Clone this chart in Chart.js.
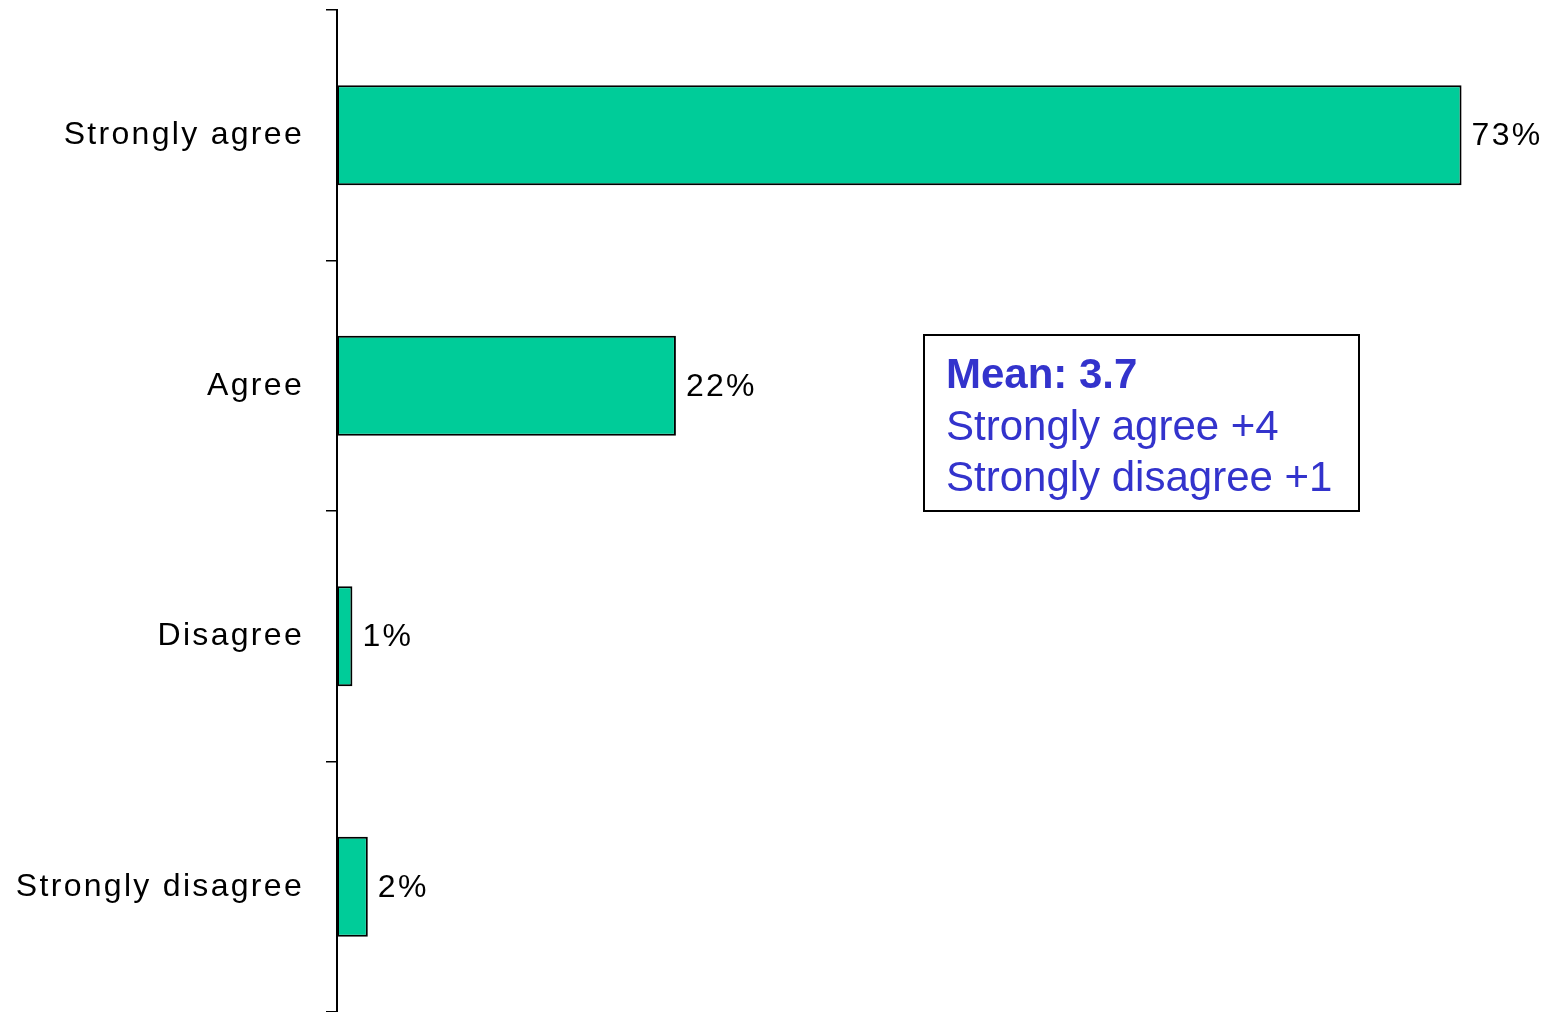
<!DOCTYPE html>
<html>
<head>
<meta charset="utf-8">
<script src="https://cdn.jsdelivr.net/npm/chart.js@4"></script>
<style>
  html, body { margin: 0; padding: 0; background: #fff; }
  #wrap { width: 1565px; height: 1012px; }
</style>
</head>
<body>
<div id="wrap"><canvas id="surveyChart"></canvas></div>
<script>
const categories = ['Strongly agree', 'Agree', 'Disagree', 'Strongly disagree'];
const percents = [73, 22, 1, 2];
const noteLines = ['Mean: 3.7', 'Strongly agree +4', 'Strongly disagree +1'];

const fontFamily = '"Liberation Sans", Arial, sans-serif';

// value labels at the end of each bar
const barLabels = {
  id: 'barLabels',
  afterDatasetsDraw(chart) {
    const ctx = chart.ctx;
    const meta = chart.getDatasetMeta(0);
    ctx.save();
    ctx.letterSpacing = '2.3px';
    ctx.font = '32px ' + fontFamily;
    ctx.fillStyle = '#000';
    ctx.textAlign = 'left';
    ctx.textBaseline = 'middle';
    meta.data.forEach((bar, i) => {
      ctx.fillText(percents[i] + '%', bar.x + 10, bar.y + 1);
    });
    ctx.restore();
  }
};

// spaced tick labels, then the mean box
const spacing = {
  id: 'spacing',
  beforeDraw(chart) { chart.ctx.letterSpacing = '2.3px'; },
  afterDraw(chart) {
    const ctx = chart.ctx;
    ctx.letterSpacing = '0px';
    ctx.save();
    ctx.lineWidth = 2;
    ctx.strokeStyle = '#000';
    ctx.fillStyle = '#fff';
    ctx.fillRect(924, 335, 435, 176);
    ctx.strokeRect(924, 335, 435, 176);
    ctx.fillStyle = '#3333CC';
    ctx.textAlign = 'left';
    ctx.textBaseline = 'alphabetic';
    noteLines.forEach((t, i) => {
      ctx.font = (i === 0 ? 'bold ' : '') + '42px ' + fontFamily;
      ctx.fillText(t, 946, 388 + i * 51.5);
    });
    ctx.restore();
  }
};

new Chart(document.getElementById('surveyChart').getContext('2d'), {
  type: 'bar',
  data: {
    labels: categories,
    datasets: [{
      data: percents,
      backgroundColor: '#00CC99',
      borderColor: '#000',
      borderWidth: 2,
      borderSkipped: false,
      barPercentage: 0.4,
      categoryPercentage: 1.0
    }]
  },
  options: {
    indexAxis: 'y',
    responsive: true,
    maintainAspectRatio: false,
    animation: false,
    layout: { padding: { left: 0, right: 11, top: 10, bottom: 0 } },
    plugins: {
      legend: { display: false },
      tooltip: { enabled: false }
    },
    scales: {
      x: {
        display: false,
        min: 0,
        max: 79
      },
      y: {
        offset: true,
        afterFit(scale) {
          scale.width = 337;
          scale.paddingTop = 0;
          scale.paddingBottom = 0;
        },
        border: { display: true, color: '#000', width: 2 },
        grid: {
          offset: true,
          drawOnChartArea: false,
          drawTicks: true,
          tickLength: 11,
          color: '#000',
          lineWidth: 1.5
        },
        ticks: {
          color: '#000',
          padding: 22,
          font: { family: fontFamily, size: 32 }
        }
      }
    }
  },
  plugins: [barLabels, spacing]
});
</script>
</body>
</html>
